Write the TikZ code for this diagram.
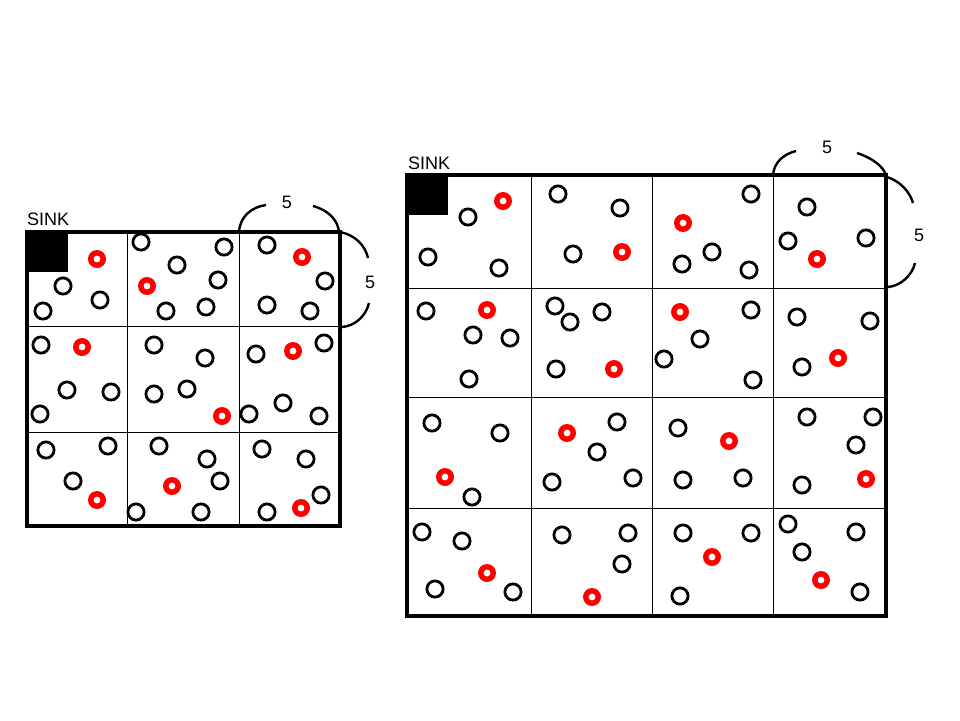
\documentclass[tikz,border=0pt]{standalone}
\usepackage{fontspec}
\setmainfont{Liberation Sans}
\begin{document}
\begin{tikzpicture}[x=1pt, y=-1pt,
    frame/.style={line width=3.5pt, line join=miter},
    cellline/.style={line width=1pt},
    sinkbox/.style={fill=black},
    sensor/.style={draw=black, line width=2.8pt},
    head/.style={draw=red, line width=5.5pt},
    brace/.style={line width=2.4pt},
    lbl/.style={font=\fontsize{18}{21}\selectfont, inner sep=0pt}
  ]
  \useasboundingbox (0,0) rectangle (960,720);

  % left field, 3 x 3 cells
  \coordinate (lnw) at (27,232);
  \coordinate (lse) at (340,526);
  \draw[cellline] (127,232) -- (127,526) (239,232) -- (239,526)
                  (27,326) -- (340,326) (27,432) -- (340,432);
  \draw[frame] (lnw) rectangle (lse);
  \fill[sinkbox] (lnw) rectangle (68,272);
  \node[lbl, anchor=base west] (sinkL) at (27,225) {SINK};

  \foreach \x/\y in {63/286, 100/300, 43/311, 141/242, 224/247, 177/265, 218/280,
                     166/311, 206/307, 267/245, 325/281, 267/305, 310/311,
                     41/345, 154/345, 205/358, 256/354, 324/343,
                     67/390, 111/392, 40/414, 154/394, 187/389, 249/414, 283/403, 319/416,
                     46/450, 108/446, 73/481, 159/446, 207/459, 220/481, 136/512, 201/512,
                     262/449, 306/459, 321/495, 267/512}
    \draw[sensor] (\x,\y) circle[radius=8.1];
  \foreach \x/\y in {97/259, 147/286, 302/257, 82/347, 293/351, 222/416, 97/500, 172/486, 301/508}
    \draw[head] (\x,\y) circle[radius=6.2];

  % side length labels
  \node[lbl] (topL) at (287,202) {5};
  \draw[brace] (239,232) .. controls (240,216) and (252,207) .. (266,205);
  \draw[brace] (313,206) .. controls (328,210) and (338,220) .. (339,232);
  \node[lbl] (sideL) at (370,282) {5};
  \draw[brace] (340,232) .. controls (355,235) and (365,245) .. (368,258);
  \draw[brace] (369,303) .. controls (366,316) and (355,326) .. (342,327);

  % right field, 4 x 4 cells
  \coordinate (rnw) at (407,175);
  \coordinate (rse) at (886,616);
  \draw[cellline] (531,175) -- (531,616) (652,175) -- (652,616) (773,175) -- (773,616)
                  (407,288) -- (886,288) (407,397) -- (886,397) (407,508) -- (886,508);
  \draw[frame] (rnw) rectangle (rse);
  \fill[sinkbox] (rnw) rectangle (448,215);
  \node[lbl, anchor=base west] (sinkR) at (408,169) {SINK};

  \foreach \x/\y in {468/217, 428/257, 499/268, 558/194, 620/208, 573/254,
                     751/194, 712/252, 682/264, 749/270, 807/207, 866/238, 788/241,
                     426/311, 473/335, 510/338, 469/379, 555/306, 570/322, 602/312, 556/369,
                     751/310, 700/339, 664/359, 753/380, 797/317, 870/321, 802/367,
                     432/423, 500/433, 472/497, 617/422, 597/452, 552/482, 633/478,
                     678/428, 683/480, 743/478, 807/417, 873/417, 856/445, 802/485,
                     422/532, 462/541, 435/589, 513/592, 562/535, 628/533, 622/564,
                     683/533, 751/533, 680/596, 788/524, 856/532, 802/552, 860/592}
    \draw[sensor] (\x,\y) circle[radius=8.1];
  \foreach \x/\y in {503/201, 622/252, 683/223, 817/259, 487/310, 614/369, 680/312, 838/358,
                     445/477, 567/433, 729/441, 866/479, 487/573, 592/597, 712/557, 821/580}
    \draw[head] (\x,\y) circle[radius=6.2];

  % side length labels
  \node[lbl] (topR) at (827,147) {5};
  \draw[brace] (773,175) .. controls (774,162) and (784,154) .. (796,151);
  \draw[brace] (857,153) .. controls (872,158) and (883,166) .. (886,175);
  \node[lbl] (sideR) at (919,235) {5};
  \draw[brace] (887,177) .. controls (900,181) and (910,192) .. (913,203);
  \draw[brace] (915,263) .. controls (912,276) and (900,286) .. (888,287);
\end{tikzpicture}
\end{document}
